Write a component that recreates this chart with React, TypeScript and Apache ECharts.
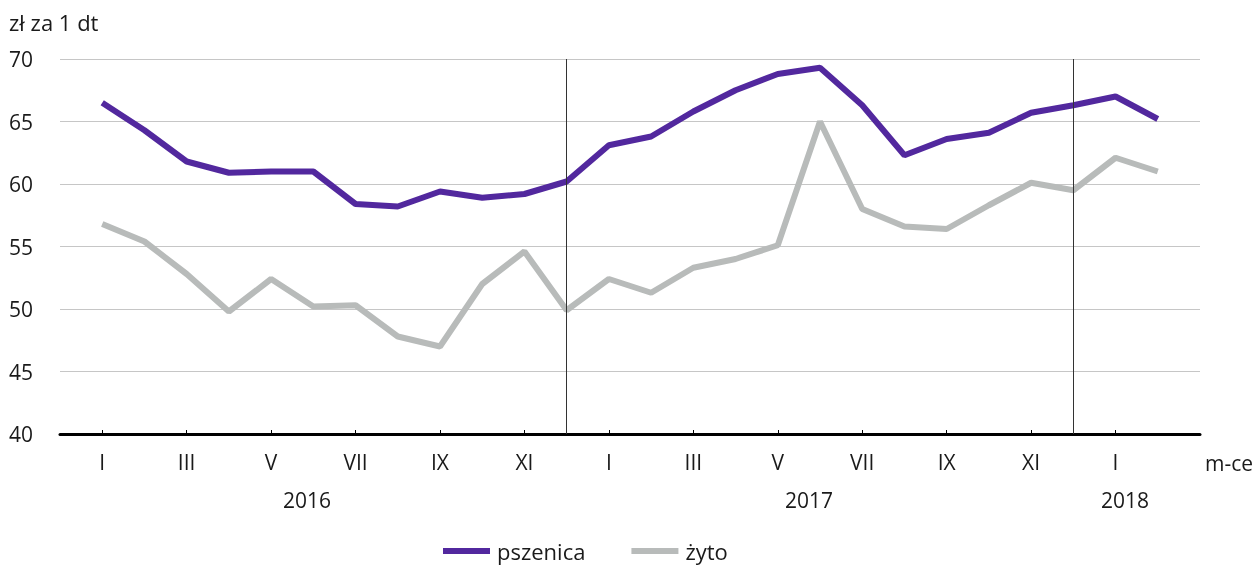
import React, { useEffect, useRef } from "react";
import * as echarts from "echarts";

const categories = [
  "2015-12",
  "2016-01", "2016-02", "2016-03", "2016-04", "2016-05", "2016-06",
  "2016-07", "2016-08", "2016-09", "2016-10", "2016-11", "2016-12",
  "2017-01", "2017-02", "2017-03", "2017-04", "2017-05", "2017-06",
  "2017-07", "2017-08", "2017-09", "2017-10", "2017-11", "2017-12",
  "2018-01", "2018-02", "2018-03",
];

const romanMonths = ["I", "II", "III", "IV", "V", "VI", "VII", "VIII", "IX", "X", "XI", "XII"];

const pszenica = [
  null,
  66.5, 64.3, 61.8, 60.9, 61.0, 61.0, 58.4, 58.2, 59.4, 58.9, 59.2, 60.2,
  63.1, 63.8, 65.8, 67.5, 68.8, 69.3, 66.3, 62.3, 63.6, 64.1, 65.7, 66.3,
  67.0, 65.2,
  null,
];

const zyto = [
  null,
  56.8, 55.4, 52.8, 49.8, 52.4, 50.2, 50.3, 47.8, 47.0, 52.0, 54.6, 49.9,
  52.4, 51.3, 53.3, 54.0, 55.1, 65.0, 58.0, 56.6, 56.4, 58.3, 60.1, 59.5,
  62.1, 61.0,
  null,
];

const yearSeparators = ["2016-12", "2017-12"];
const yearLabels = ["2016", "2017", "2018"];

const FONT = "Open Sans";
const TXT = "#1a1a1a";

export default function App() {
  const ref = useRef<HTMLDivElement>(null);

  useEffect(() => {
    if (!ref.current) return;
    const chart = echarts.init(ref.current, null, { renderer: "svg" });
    chart.setOption({
      animation: false,
      textStyle: { fontFamily: FONT, color: TXT },
      grid: { left: 60, right: 58, top: 59, bottom: 132, containLabel: false },
      legend: {
        left: 443,
        top: 540,
        padding: 0,
        itemWidth: 47,
        itemHeight: 6,
        itemGap: 46,
        icon: "rect",
        textStyle: { fontFamily: FONT, fontSize: 22, lineHeight: 22, color: TXT, padding: [0, 0, 0, 2] },
        data: ["pszenica", "żyto"],
      },
      xAxis: {
        type: "category",
        data: categories,
        boundaryGap: false,
        axisLine: { lineStyle: { color: "#000", width: 3 } },
        axisTick: { inside: true, length: 4, lineStyle: { color: "#000", width: 1 } },
        axisLabel: {
          interval: (i: number, v: string) => {
            if (i === 0 || i === categories.length - 1) return false;
            const m = parseInt(v.slice(5), 10);
            return m % 2 === 1;
          },
          formatter: (v: string) => romanMonths[parseInt(v.slice(5), 10) - 1],
          margin: 17,
          fontSize: 21,
          fontFamily: FONT,
          color: TXT,
        },
        splitLine: { show: false },
      },
      yAxis: {
        type: "value",
        min: 40,
        max: 70,
        interval: 5,
        axisLine: { show: false },
        axisTick: { show: false },
        axisLabel: { margin: 27, fontSize: 21, fontFamily: FONT, color: TXT },
        splitLine: { lineStyle: { color: "#c6c6c6", width: 1.2 } },
      },
      series: [
        {
          name: "pszenica",
          type: "line",
          data: pszenica,
          symbol: "none",
          lineStyle: { color: "#52289e", width: 6 },
          itemStyle: { color: "#52289e" },
          z: 3,
          markLine: {
            silent: true,
            symbol: "none",
            label: { show: false },
            lineStyle: { color: "#333", width: 1, type: "solid" },
            data: yearSeparators.map((c) => ({ xAxis: c })),
          },
        },
        {
          name: "żyto",
          type: "line",
          data: zyto,
          symbol: "none",
          lineStyle: { color: "#b8bbba", width: 6 },
          itemStyle: { color: "#b8bbba" },
          z: 2,
        },
      ],
      graphic: [
        {
          type: "text",
          left: 9,
          top: 11,
          style: { text: "zł za 1 dt", fontFamily: FONT, fontSize: 22, fill: TXT },
        },
        {
          type: "text",
          x: 1229,
          y: 463,
          style: { text: "m-ce", fontFamily: FONT, fontSize: 21, fill: TXT, align: "center", verticalAlign: "middle" },
        },
        ...yearLabels.map((t, i) => ({
          type: "text",
          x: [307, 809, 1125][i],
          y: 500,
          style: { text: t, fontFamily: FONT, fontSize: 21, fill: TXT, align: "center", verticalAlign: "middle" },
        })),
      ],
    });
    return () => chart.dispose();
  }, []);

  return (
    <div
      ref={ref}
      style={{ position: "fixed", left: 0, top: 0, width: 1258, height: 566 }}
    />
  );
}
